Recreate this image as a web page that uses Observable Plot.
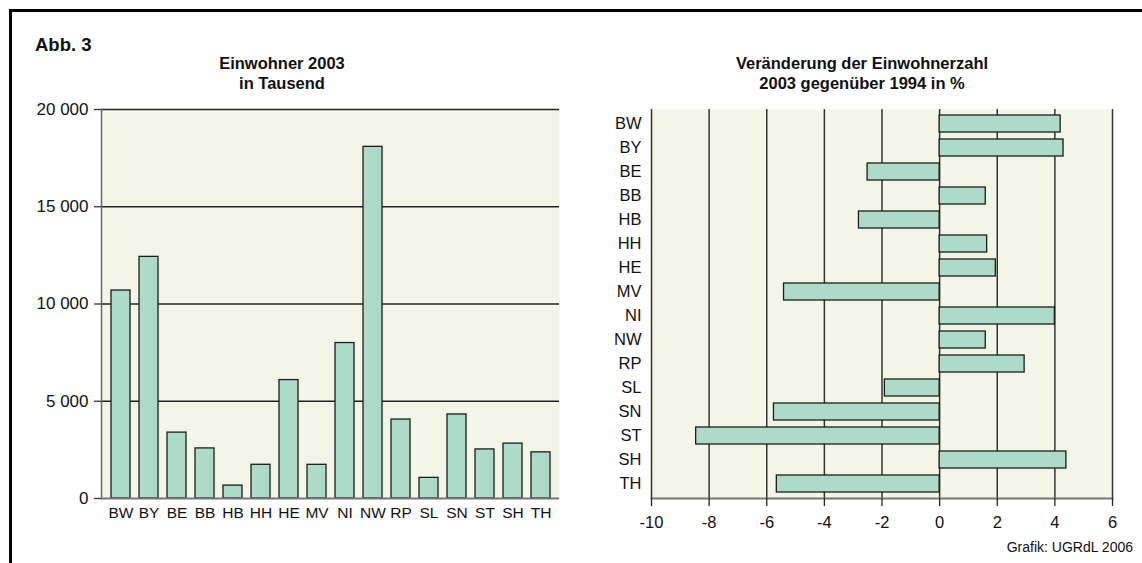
<!DOCTYPE html>
<html>
<head>
<meta charset="utf-8">
<script src="https://cdn.jsdelivr.net/npm/d3@7"></script>
<script src="https://cdn.jsdelivr.net/npm/@observablehq/plot@0.6"></script>
<style>
  html, body { margin: 0; padding: 0; background: #fff; }
  #root { position: relative; width: 1142px; height: 563px; overflow: hidden; font-family: "Liberation Sans", Arial, sans-serif; color: #111; }
  .frame { position: absolute; left: 9px; top: 9px; width: 1160px; height: 580px; border-left: 3px solid #000; border-top: 3px solid #000; box-sizing: border-box; }
  .t { position: absolute; font-weight: bold; font-size: 16.5px; line-height: 20px; text-align: center; white-space: nowrap; }
  .abb { position: absolute; left: 35px; top: 34px; font-weight: bold; font-size: 18.5px; }
  .src { position: absolute; right: 9px; top: 539px; font-size: 14px; }
  .plot { position: absolute; }
</style>
</head>
<body>
<div id="root">
  <div class="frame"></div>
  <div class="abb">Abb. 3</div>
  <div class="t" style="left:182px; top:53px; width:200px;">Einwohner 2003<br>in Tausend</div>
  <div class="t" style="left:712px; top:53px; width:300px;">Veränderung der Einwohnerzahl<br>2003 gegenüber 1994 in %</div>
  <div class="src">Grafik: UGRdL 2006</div>
  <div id="left" class="plot" style="left:0px; top:99px;"></div>
  <div id="right" class="plot" style="left:580px; top:99px;"></div>
</div>
<script>
// Data
const states = ["BW","BY","BE","BB","HB","HH","HE","MV","NI","NW","RP","SL","SN","ST","SH","TH"];
const population2003 = [10693,12423,3388,2575,663,1734,6089,1732,7993,18080,4059,1061,4321,2523,2823,2373];
const change1994to2003 = [4.2,4.3,-2.5,1.6,-2.8,1.65,1.95,-5.4,4.0,1.6,2.95,-1.9,-5.75,-8.45,4.4,-5.65];
const popTicks = [0,5000,10000,15000,20000];
const changeTicks = [-10,-8,-6,-4,-2,0,2,4,6];

const bg = "#f3f6e7";
const barFill = "#acdcc8";
const barStroke = "#1c1c1c";
const fmt = d => d3.format(",")(d).replace(/,/g, " ");
const fmtHyphen = d => String(d);

const leftData = states.map((s, i) => ({state: s, value: population2003[i]}));
const rightData = states.map((s, i) => ({state: s, value: change1994to2003[i]}));

const leftPlot = Plot.plot({
  width: 569,
  height: 430,
  marginTop: 10,
  marginBottom: 31,
  marginLeft: 101,
  marginRight: 10,
  style: {fontFamily: "'Liberation Sans', Arial, sans-serif", fontSize: "15px", color: "#111", background: "transparent", overflow: "visible"},
  x: {domain: states, paddingInner: 0.33, paddingOuter: 0.15, label: null},
  y: {domain: [0, 20000], label: null},
  marks: [
    Plot.frame({fill: bg, stroke: null}),
    Plot.ruleY(popTicks.filter(d => d > 0), {stroke: "#222", strokeWidth: 1.3}),
    Plot.barY(leftData, {x: "state", y: "value", fill: barFill, stroke: barStroke, strokeWidth: 1.3}),
    Plot.frame({anchor: "left", stroke: "#666", strokeWidth: 1.5}),
    Plot.ruleY([0], {stroke: "#777", strokeWidth: 2.2}),
    Plot.axisY({ticks: popTicks, tickFormat: fmt, tickSize: 7, tickPadding: 6, stroke: "#333", strokeWidth: 1.3, label: null, fontSize: 17}),
    Plot.axisX({tickSize: 0, tickPadding: 8, label: null, fontSize: 15.5})
  ]
});
document.getElementById("left").appendChild(leftPlot);

const rightPlot = Plot.plot({
  width: 552,
  height: 440,
  marginTop: 10,
  marginBottom: 41,
  marginLeft: 71,
  marginRight: 20,
  style: {fontFamily: "'Liberation Sans', Arial, sans-serif", fontSize: "16px", color: "#111", background: "transparent", overflow: "visible"},
  x: {domain: [-10, 6], label: null},
  y: {domain: states, paddingInner: 0.28, paddingOuter: 0.15, label: null},
  marks: [
    Plot.frame({fill: bg, stroke: null}),
    Plot.ruleX(changeTicks, {stroke: "#333", strokeWidth: 1.5}),
    Plot.barX(rightData, {x: "value", y: "state", fill: barFill, stroke: barStroke, strokeWidth: 1.3}),
    Plot.frame({anchor: "bottom", stroke: "#777", strokeWidth: 2.2}),
    Plot.axisX({ticks: changeTicks, tickFormat: fmtHyphen, tickSize: 8, tickPadding: 10, stroke: "#222", strokeWidth: 1.3, label: null, fontSize: 16.5}),
    Plot.axisY({tickSize: 0, tickPadding: 10, label: null, fontSize: 16.5})
  ]
});
document.getElementById("right").appendChild(rightPlot);
</script>
</body>
</html>
